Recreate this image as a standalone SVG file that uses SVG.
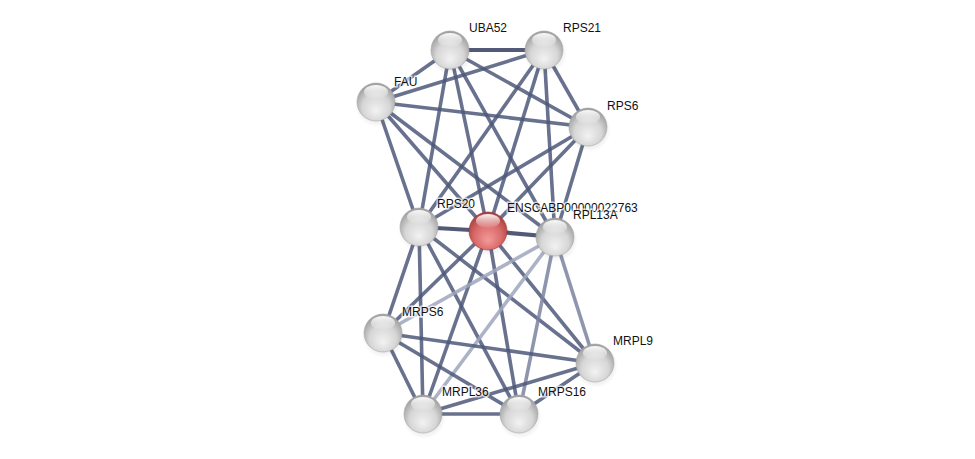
<svg xmlns="http://www.w3.org/2000/svg" width="975" height="459" viewBox="0 0 975 459">
<defs>
<radialGradient id="gGray" cx="50%" cy="60%" r="60%" fx="50%" fy="75%">
<stop offset="0%" stop-color="#f2f2f2"/>
<stop offset="60%" stop-color="#d6d6d6"/>
<stop offset="100%" stop-color="#9a9a9a"/>
</radialGradient>
<radialGradient id="gRed" cx="50%" cy="60%" r="60%" fx="50%" fy="75%">
<stop offset="0%" stop-color="#f39a9a"/>
<stop offset="60%" stop-color="#d96a6a"/>
<stop offset="100%" stop-color="#a83c3c"/>
</radialGradient>
<linearGradient id="gloss" x1="0" y1="0" x2="0" y2="1">
<stop offset="0%" stop-color="#ffffff" stop-opacity="0.95"/>
<stop offset="100%" stop-color="#ffffff" stop-opacity="0.05"/>
</linearGradient>
<radialGradient id="shadow" cx="50%" cy="50%" r="50%">
<stop offset="0%" stop-color="#000" stop-opacity="0.25"/>
<stop offset="100%" stop-color="#000" stop-opacity="0"/>
</radialGradient>
<g id="node">
<circle cx="1" cy="3" r="22" fill="url(#shadow)"/>
<circle r="19" fill="url(#gGray)" stroke="#a8a8a8" stroke-width="0.6"/>
<ellipse cx="0" cy="-10" rx="12" ry="7" fill="url(#gloss)"/>
</g>
<g id="rnode">
<circle cx="1" cy="3" r="22" fill="url(#shadow)"/>
<circle r="19" fill="url(#gRed)" stroke="#9a3a3a" stroke-width="0.6"/>
<ellipse cx="0" cy="-10" rx="12" ry="7" fill="url(#gloss)"/>
</g>
</defs>
<style>
.e{stroke:#4e5879;stroke-width:3.6;stroke-opacity:0.85;fill:none}
.t{stroke:#3f4868;stroke-width:4.2;stroke-opacity:0.9}
.m{stroke:#7a839f;stroke-opacity:0.85}
.l{stroke:#9ea6bd;stroke-opacity:0.85}
text{font-family:"Liberation Sans",Arial,sans-serif;font-size:12px;fill:#111;stroke:#fff;stroke-width:3;stroke-opacity:0.7;paint-order:stroke}
</style>
<rect width="975" height="459" fill="#fff"/>
<g id="edges">
<line class="e t" x1="450" y1="50" x2="544" y2="50"/>
<line class="e" x1="450" y1="50" x2="376" y2="102"/>
<line class="e" x1="376" y1="102" x2="544" y2="50"/>
<line class="e" x1="376" y1="102" x2="588" y2="127"/>
<line class="e" x1="450" y1="50" x2="588" y2="127"/>
<line class="e" x1="544" y1="50" x2="588" y2="127"/>
<line class="e" x1="450" y1="50" x2="419" y2="227"/>
<line class="e" x1="450" y1="50" x2="488" y2="231"/>
<line class="e" x1="450" y1="50" x2="555" y2="237"/>
<line class="e" x1="544" y1="50" x2="419" y2="227"/>
<line class="e" x1="544" y1="50" x2="488" y2="231"/>
<line class="e" x1="544" y1="50" x2="555" y2="237"/>
<line class="e" x1="376" y1="102" x2="419" y2="227"/>
<line class="e" x1="376" y1="102" x2="488" y2="231"/>
<line class="e" x1="376" y1="102" x2="555" y2="237"/>
<line class="e" x1="588" y1="127" x2="419" y2="227"/>
<line class="e" x1="588" y1="127" x2="488" y2="231"/>
<line class="e" x1="588" y1="127" x2="555" y2="237"/>
<line class="e t" x1="419" y1="227" x2="488" y2="231"/>
<line class="e t" x1="488" y1="231" x2="555" y2="237"/>
<line class="e" x1="419" y1="227" x2="383" y2="333"/>
<line class="e" x1="419" y1="227" x2="423" y2="414"/>
<line class="e" x1="419" y1="227" x2="519" y2="414"/>
<line class="e" x1="419" y1="227" x2="595" y2="363"/>
<line class="e" x1="488" y1="231" x2="383" y2="333"/>
<line class="e" x1="488" y1="231" x2="423" y2="414"/>
<line class="e" x1="488" y1="231" x2="519" y2="414"/>
<line class="e" x1="488" y1="231" x2="595" y2="363"/>
<line class="e l" x1="555" y1="237" x2="383" y2="333"/>
<line class="e l" x1="555" y1="237" x2="423" y2="414"/>
<line class="e m" x1="555" y1="237" x2="519" y2="414"/>
<line class="e m" x1="555" y1="237" x2="595" y2="363"/>
<line class="e" x1="383" y1="333" x2="595" y2="363"/>
<line class="e" x1="383" y1="333" x2="423" y2="414"/>
<line class="e" x1="383" y1="333" x2="519" y2="414"/>
<line class="e" x1="423" y1="414" x2="519" y2="414"/>
<line class="e" x1="423" y1="414" x2="595" y2="363"/>
<line class="e" x1="519" y1="414" x2="595" y2="363"/>
</g>
<g id="UBA52"><use href="#node" x="450" y="50"/></g>
<g id="RPS21"><use href="#node" x="544" y="50"/></g>
<g id="FAU"><use href="#node" x="376" y="102"/></g>
<g id="RPS6"><use href="#node" x="588" y="127"/></g>
<g id="RPS20"><use href="#node" x="419" y="227"/></g>
<g id="ENSCABP00000022763"><use href="#rnode" x="488" y="231"/></g>
<g id="RPL13A"><use href="#node" x="555" y="237"/></g>
<g id="MRPS6"><use href="#node" x="383" y="333"/></g>
<g id="MRPL9"><use href="#node" x="595" y="363"/></g>
<g id="MRPL36"><use href="#node" x="423" y="414"/></g>
<g id="MRPS16"><use href="#node" x="519" y="414"/></g>
<g id="labels">
<text x="469" y="32">UBA52</text>
<text x="563" y="32">RPS21</text>
<text x="394" y="86">FAU</text>
<text x="607" y="110">RPS6</text>
<text x="437" y="208">RPS20</text>
<text x="507" y="212">ENSCABP00000022763</text>
<text x="573" y="219">RPL13A</text>
<text x="402" y="316">MRPS6</text>
<text x="613" y="345">MRPL9</text>
<text x="442" y="396">MRPL36</text>
<text x="538" y="396">MRPS16</text>
</g>
</svg>
